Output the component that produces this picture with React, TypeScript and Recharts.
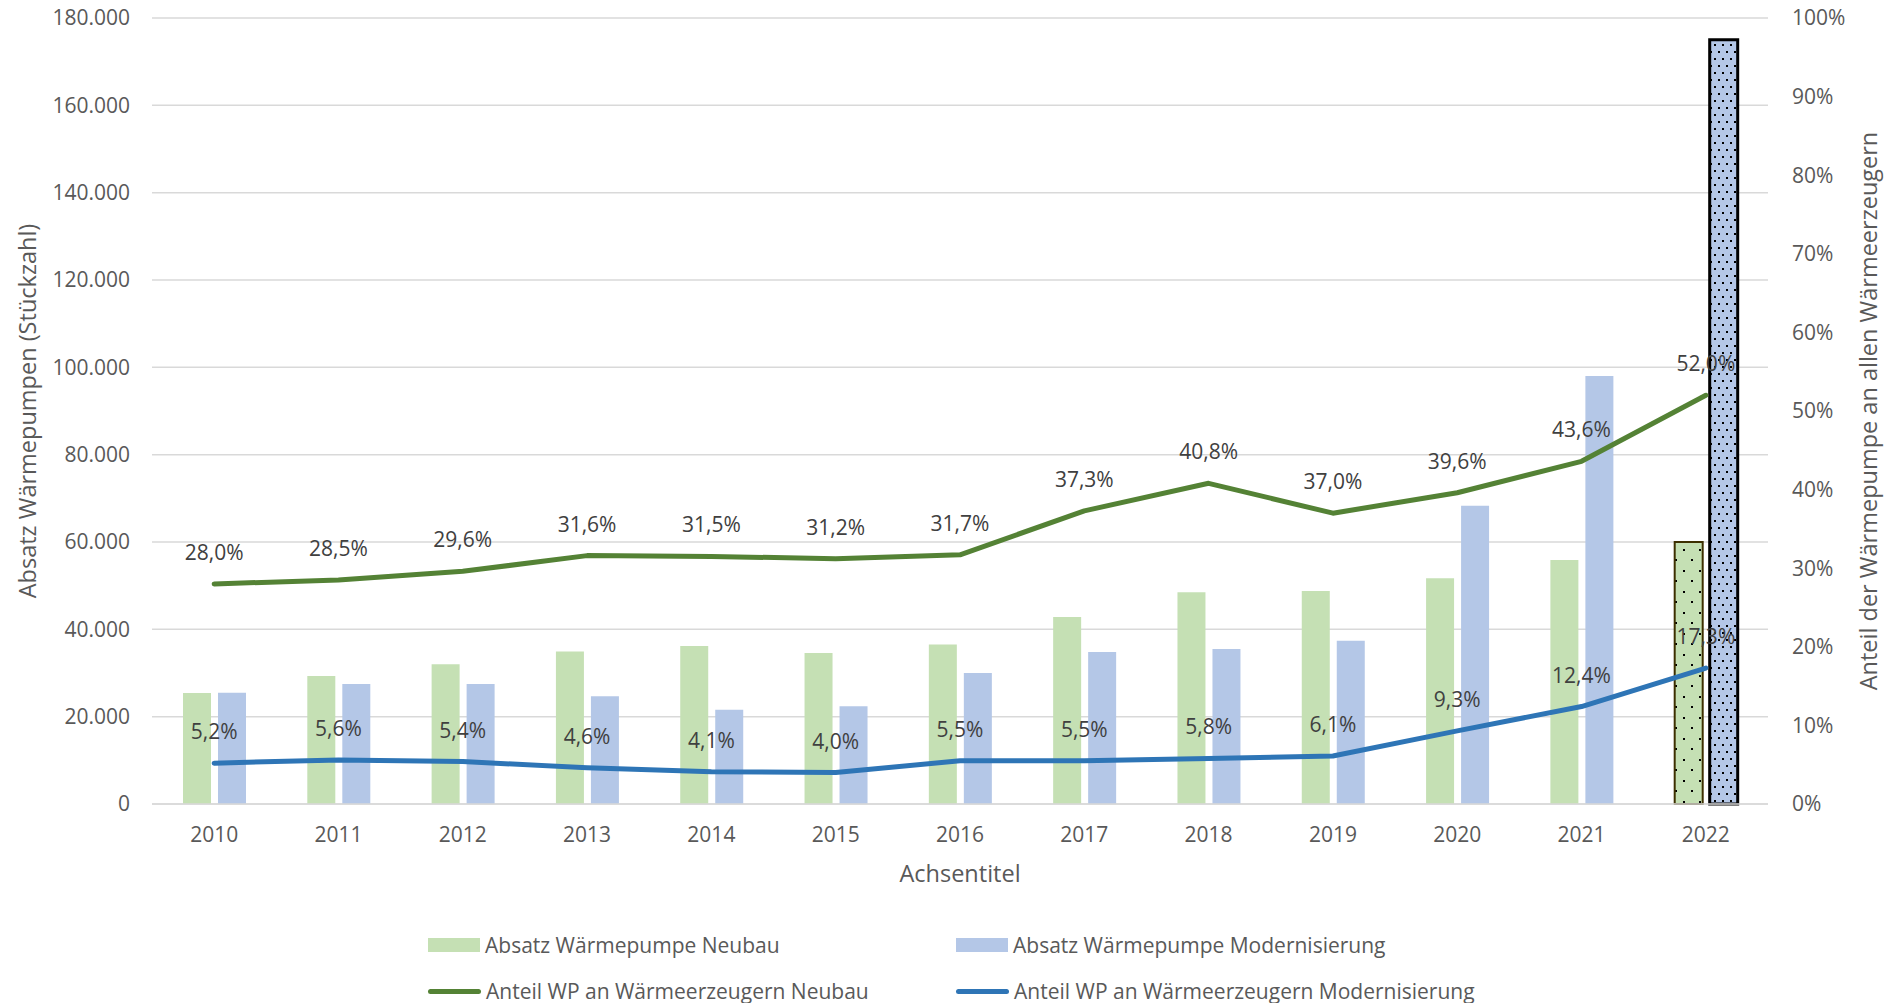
import React from 'react';
import {
  ComposedChart,
  Bar,
  Line,
  XAxis,
  YAxis,
  CartesianGrid,
  Cell,
  LabelList,
  Label,
} from 'recharts';

const years = ['2010', '2011', '2012', '2013', '2014', '2015', '2016', '2017', '2018', '2019', '2020', '2021', '2022'];
const absatzNeubau = [25400, 29300, 32000, 34900, 36200, 34600, 36500, 42800, 48500, 48800, 51700, 55900, 60000];
const absatzModernisierung = [25500, 27500, 27500, 24700, 21600, 22400, 30000, 34800, 35500, 37400, 68300, 98000, 175000];
const anteilNeubau = [28.0, 28.5, 29.6, 31.6, 31.5, 31.2, 31.7, 37.3, 40.8, 37.0, 39.6, 43.6, 52.0];
const anteilModernisierung = [5.2, 5.6, 5.4, 4.6, 4.1, 4.0, 5.5, 5.5, 5.8, 6.1, 9.3, 12.4, 17.3];

const leftTicks = [0, 20000, 40000, 60000, 80000, 100000, 120000, 140000, 160000, 180000];
const rightTicks = [0, 10, 20, 30, 40, 50, 60, 70, 80, 90, 100];

const seriesNames = [
  'Absatz Wärmepumpe Neubau',
  'Absatz Wärmepumpe Modernisierung',
  'Anteil WP an Wärmeerzeugern Neubau',
  'Anteil WP an Wärmeerzeugern Modernisierung',
];
const leftAxisTitle = 'Absatz Wärmepumpen (Stückzahl)';
const rightAxisTitle = 'Anteil der Wärmepumpe an allen Wärmeerzeugern';
const xAxisTitle = 'Achsentitel';

const highlightYear = '2022';

const GREEN_BAR = '#C5E0B4';
const BLUE_BAR = '#B4C7E7';
const GREEN_LINE = '#548235';
const BLUE_LINE = '#2E75B6';
const FONT = '"Open Sans", sans-serif';
const TICK_COLOR = '#595959';
const LABEL_COLOR = '#404040';
const TITLE_SIZE = 23.5;

const data = years.map((y, i) => ({
  year: y,
  neubau: absatzNeubau[i],
  modern: absatzModernisierung[i],
  anteilNeubau: anteilNeubau[i],
  anteilModern: anteilModernisierung[i],
}));

const fmtThousands = (v: number) =>
  v === 0 ? '0' : String(v).replace(/\B(?=(\d{3})+(?!\d))/g, '.');
const fmtPct = (v: number) => v.toFixed(1).replace('.', ',') + '%';

const PctLabel = (props: any) => {
  const { x, y, value } = props;
  if (value == null) return null;
  return (
    <text
      x={x}
      y={y - 32}
      textAnchor="middle"
      dominantBaseline="central"
      fill={LABEL_COLOR}
      fontSize={21}
      fontFamily={FONT}
    >
      {fmtPct(value)}
    </text>
  );
};

const legendItems = [
  { name: seriesNames[0], type: 'rect', color: GREEN_BAR },
  { name: seriesNames[1], type: 'rect', color: BLUE_BAR },
  { name: seriesNames[2], type: 'line', color: GREEN_LINE },
  { name: seriesNames[3], type: 'line', color: BLUE_LINE },
];

export default function App() {
  return (
    <div style={{ position: 'absolute', left: 0, top: 0, width: 1890, height: 1003, background: '#fff', fontFamily: FONT }}>
      <ComposedChart
        width={1890}
        height={1003}
        data={data}
        margin={{ top: 18, right: 0, bottom: 139, left: 0 }}
        barSize={28}
        barGap={7}
      >
        <defs>
          <pattern id="dotsGreen" patternUnits="userSpaceOnUse" width="16" height="21">
            <rect width="16" height="21" fill={GREEN_BAR} />
            <rect x="3" y="3" width="2" height="2" fill="#000" />
            <rect x="11" y="13" width="2" height="2" fill="#000" />
          </pattern>
          <pattern id="dotsBlue" patternUnits="userSpaceOnUse" width="8" height="14">
            <rect width="8" height="14" fill={BLUE_BAR} />
            <rect x="2" y="2" width="2" height="2" fill="#000" />
            <rect x="6" y="9" width="2" height="2" fill="#000" />
          </pattern>
        </defs>
        <CartesianGrid yAxisId="left" vertical={false} stroke="#D9D9D9" strokeWidth={1.5} />
        <XAxis
          dataKey="year"
          height={60}
          tickLine={false}
          axisLine={{ stroke: '#D9D9D9', strokeWidth: 1.5 }}
          tickSize={0}
          tickMargin={23}
          tick={{ fill: TICK_COLOR, fontSize: 21, fontFamily: FONT }}
          interval={0}
        >
          <Label
            content={(p: any) => {
              const vb = p.viewBox;
              return (
                <text
                  x={vb.x + vb.width / 2}
                  y={vb.y + 69}
                  textAnchor="middle"
                  dominantBaseline="central"
                  fill={TICK_COLOR}
                  fontSize={TITLE_SIZE}
                  fontFamily={FONT}
                >
                  {xAxisTitle}
                </text>
              );
            }}
          />
        </XAxis>
        <YAxis
          yAxisId="left"
          orientation="left"
          width={152}
          domain={[0, 180000]}
          ticks={leftTicks}
          tickFormatter={fmtThousands}
          tickLine={false}
          axisLine={false}
          tickSize={0}
          tickMargin={22}
          tick={{ fill: TICK_COLOR, fontSize: 21, fontFamily: FONT }}
          interval={0}
        >
          <Label
            content={(p: any) => {
              const vb = p.viewBox;
              const cx = vb.x + 27;
              const cy = vb.y + vb.height / 2;
              return (
                <text
                  x={cx}
                  y={cy}
                  transform={`rotate(-90 ${cx} ${cy})`}
                  textAnchor="middle"
                  dominantBaseline="central"
                  fill={TICK_COLOR}
                  fontSize={TITLE_SIZE}
                  fontFamily={FONT}
                >
                  {leftAxisTitle}
                </text>
              );
            }}
          />
        </YAxis>
        <YAxis
          yAxisId="right"
          orientation="right"
          width={122}
          domain={[0, 100]}
          ticks={rightTicks}
          tickFormatter={(v: number) => `${v}%`}
          tickLine={false}
          axisLine={false}
          tickSize={0}
          tickMargin={24}
          tick={{ fill: TICK_COLOR, fontSize: 21, fontFamily: FONT }}
          interval={0}
        >
          <Label
            content={(p: any) => {
              const vb = p.viewBox;
              const cx = vb.x + 100;
              const cy = vb.y + vb.height / 2;
              return (
                <text
                  x={cx}
                  y={cy}
                  transform={`rotate(-90 ${cx} ${cy})`}
                  textAnchor="middle"
                  dominantBaseline="central"
                  fill={TICK_COLOR}
                  fontSize={TITLE_SIZE}
                  fontFamily={FONT}
                >
                  {rightAxisTitle}
                </text>
              );
            }}
          />
        </YAxis>
        <Bar yAxisId="left" dataKey="neubau" name={seriesNames[0]} fill={GREEN_BAR} isAnimationActive={false}>
          {data.map((d) => (
            <Cell
              key={d.year}
              fill={d.year === highlightYear ? 'url(#dotsGreen)' : GREEN_BAR}
              stroke={d.year === highlightYear ? '#3D3000' : 'none'}
              strokeWidth={d.year === highlightYear ? 2 : 0}
            />
          ))}
        </Bar>
        <Bar yAxisId="left" dataKey="modern" name={seriesNames[1]} fill={BLUE_BAR} isAnimationActive={false}>
          {data.map((d) => (
            <Cell
              key={d.year}
              fill={d.year === highlightYear ? 'url(#dotsBlue)' : BLUE_BAR}
              stroke={d.year === highlightYear ? '#000' : 'none'}
              strokeWidth={d.year === highlightYear ? 3 : 0}
            />
          ))}
        </Bar>
        <Line
          yAxisId="right"
          type="linear"
          dataKey="anteilNeubau"
          name={seriesNames[2]}
          stroke={GREEN_LINE}
          strokeWidth={5}
          strokeLinecap="round"
          strokeLinejoin="round"
          dot={false}
          activeDot={false}
          isAnimationActive={false}
        >
          <LabelList dataKey="anteilNeubau" content={PctLabel} />
        </Line>
        <Line
          yAxisId="right"
          type="linear"
          dataKey="anteilModern"
          name={seriesNames[3]}
          stroke={BLUE_LINE}
          strokeWidth={5}
          strokeLinecap="round"
          strokeLinejoin="round"
          dot={false}
          activeDot={false}
          isAnimationActive={false}
        >
          <LabelList dataKey="anteilModern" content={PctLabel} />
        </Line>
      </ComposedChart>
      {legendItems.map((item, i) => {
        const col = i % 2;
        const row = Math.floor(i / 2);
        const left = col === 0 ? 428 : 956;
        const cy = row === 0 ? 945 : 991;
        return (
          <div
            key={item.name}
            style={{
              position: 'absolute',
              left,
              top: cy - 15,
              height: 30,
              display: 'flex',
              alignItems: 'center',
              whiteSpace: 'nowrap',
            }}
          >
            {item.type === 'rect' ? (
              <div style={{ width: 52, height: 14, background: item.color }} />
            ) : (
              <div style={{ width: 53, height: 5, borderRadius: 3, background: item.color }} />
            )}
            <span style={{ marginLeft: 5, fontSize: 21, color: TICK_COLOR, fontFamily: FONT }}>{item.name}</span>
          </div>
        );
      })}
    </div>
  );
}
